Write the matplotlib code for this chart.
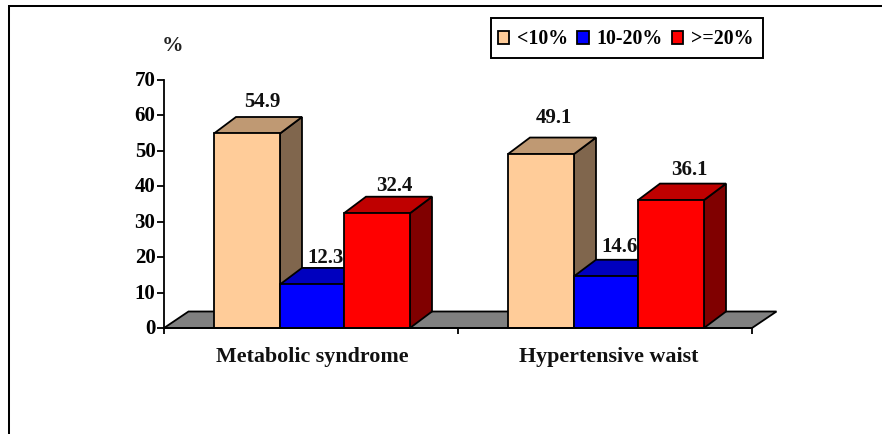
import matplotlib
matplotlib.use("Agg")
import matplotlib.pyplot as plt
from matplotlib.patches import Patch, Polygon, Rectangle
from matplotlib.lines import Line2D
from matplotlib.transforms import ScaledTranslation

categories = ["Metabolic syndrome", "Hypertensive waist"]
series_names = ["<10%", "10-20%", ">=20%"]
low = [54.9, 49.1]
mid = [12.3, 14.6]
high = [32.4, 36.1]
y_ticks = [0, 10, 20, 30, 40, 50, 60, 70]

face = ["#FFCC99", "#0000FF", "#FF0000"]
top = ["#BF9973", "#0000BF", "#BF0000"]
side = ["#80664D", "#000080", "#800000"]

plt.rcParams["font.family"] = ["Liberation Serif"]
plt.rcParams["font.weight"] = "bold"
W, H = 882, 434
fig = plt.figure(figsize=(W / 100, H / 100), dpi=100)
ax = fig.add_axes([164 / W, 1 - 328 / H, 588 / W, 248 / H])
ax.set_xlim(0, 2)
ax.set_ylim(0, 70)
ax.patch.set_alpha(0)

LW = 1.3
dx = 22 / 294
dy = 16.5 / (248 / 70)
floor_dx = 24.5 / 294
widths = [0.2245, 0.2177, 0.2245]
lefts = [-0.333, -0.1085, 0.1092]
label_dx = {(0, 0): 0.052, (1, 0): 0.045, (0, 1): 0.045, (1, 1): 0.045, (0, 2): 0.06, (1, 2): 0.063}
label_dy = {(0, 0): 1.5, (1, 0): 2.7, (0, 1): 0.1, (1, 1): 0.9, (0, 2): 0.1, (1, 2): 1.0}

# floor
ax.add_patch(Polygon([(0, 0), (floor_dx, dy), (2 + floor_dx, dy), (2, 0)], closed=True,
                     facecolor="#808080", edgecolor="black", lw=LW, clip_on=False, zorder=1))

series = [low, mid, high]
for g in range(2):
    cx = g + 0.503
    for order, (vals, l, w) in enumerate(zip(series, lefts, widths)):
        x0 = cx + l
        x1 = x0 + w
        v = vals[g]
        z = 3 + order * 2
        ax.add_patch(Polygon([(x1, 0), (x1 + dx, dy), (x1 + dx, v + dy), (x1, v)], closed=True,
                             facecolor=side[order], edgecolor="black", lw=LW, clip_on=False,
                             joinstyle="miter", zorder=z))
        ax.add_patch(Polygon([(x0, v), (x0 + dx, v + dy), (x1 + dx, v + dy), (x1, v)], closed=True,
                             facecolor=top[order], edgecolor="black", lw=LW, clip_on=False,
                             joinstyle="miter", zorder=z))
        ax.add_patch(Rectangle((x0, 0), w, v, facecolor=face[order], edgecolor="black", lw=LW,
                               clip_on=False, joinstyle="miter", zorder=z + 0.5))
        ax.text(x0 + w / 2 + label_dx[(g, order)],
                v + dy + label_dy[(g, order)],
                f"{v:.1f}", ha="center", va="bottom", fontsize=15, color="#111111", zorder=20)

for s in ("top", "right"):
    ax.spines[s].set_visible(False)
for s in ("left", "bottom"):
    ax.spines[s].set_linewidth(LW)
    ax.spines[s].set_zorder(15)
ax.set_yticks(y_ticks)
ax.set_xticks([0, 1, 2])
ax.set_xticklabels([])
ax.tick_params(axis="y", length=5, width=LW, labelsize=15, pad=1.2)
ax.tick_params(axis="x", length=4.5, width=LW)
shift = ScaledTranslation(0, 1.5 / 100, fig.dpi_scale_trans)
for lab in ax.get_yticklabels():
    lab.set_transform(lab.get_transform() + shift)
for g, c in enumerate(categories):
    ax.text(g + 0.503 + (0.0 if g == 0 else 0.01), -5.5, c, ha="center", va="top",
            fontsize=15.8, color="#111111")

fig.text(172 / W, 1 - 46 / H, "%", ha="center", va="center", fontsize=15.5, color="#222222")

# legend frame, then the frameless legend inside it
fig.add_artist(Rectangle((490.5 / W, 1 - 58 / H), 272.5 / W, 40 / H, transform=fig.transFigure,
                         facecolor="white", edgecolor="black", lw=1.4, zorder=5))
handles = [Patch(facecolor=c, edgecolor="black", lw=1.3) for c in face]
leg = fig.legend(handles, series_names, ncols=3, loc="center left",
                 bbox_to_anchor=(497.5 / W, 1 - 39.5 / H), bbox_transform=fig.transFigure,
                 borderaxespad=0, borderpad=0, fontsize=14.3, frameon=False,
                 handlelength=0.58, handleheight=0.58, handletextpad=0.4,
                 columnspacing=0.45)
leg.set_zorder(6)

# outer frame
fig.add_artist(Line2D([9 / W, 9 / W, 1], [0, 1 - 6 / H, 1 - 6 / H], color="black", lw=1.45,
                      solid_joinstyle="miter"))
fig.savefig("out.png", dpi=100)
